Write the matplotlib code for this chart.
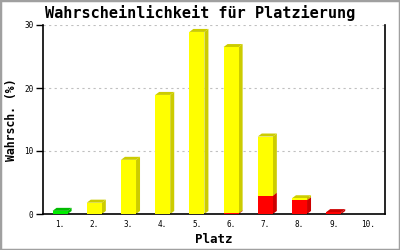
import matplotlib
matplotlib.use("Agg")
import matplotlib.pyplot as plt
from matplotlib.patches import Polygon, Rectangle
import numpy as np

categories = ["1.", "2.", "3.", "4.", "5.", "6.", "7.", "8.", "9.", "10."]
red_vals = [0, 0, 0, 0, 0, 0.1, 2.9, 2.2, 0.3, 0]
yellow_vals = [0, 1.8, 8.6, 18.9, 28.9, 26.4, 9.4, 0.3, 0, 0]
green_vals = [0.5, 0, 0, 0, 0, 0, 0, 0, 0, 0]
y_ticks = [0, 10, 20, 30]

series = [
    (red_vals, "#ff0000", "#cc0000"),
    (yellow_vals, "#ffff00", "#cccc00"),
    (green_vals, "#00ee00", "#00bb00"),
]

fig = plt.figure(figsize=(4, 2.5), dpi=100)
ax = fig.add_axes([0.1075, 0.144, 0.855, 0.756])
x = np.arange(len(categories))
w = 0.44
ax.set_xlim(-0.5, len(categories) - 0.5)
ax.set_ylim(0, 30)

# 3D offsets in data units (4 px right, 3 px up)
fig.canvas.draw()
p0 = ax.transData.inverted().transform((0, 0))
p1 = ax.transData.inverted().transform((4, 3))
dx = p1[0] - p0[0]
dy = p1[1] - p0[1]

bottom = np.zeros(len(categories))
for vals, fc, dc in series:
    vals = np.array(vals, dtype=float)
    for i in range(len(categories)):
        if vals[i] <= 0:
            continue
        b = bottom[i]
        t = b + vals[i]
        xl = x[i] - w / 2
        xr = x[i] + w / 2
        side = Polygon([(xr, b), (xr + dx, b + dy), (xr + dx, t + dy), (xr, t)],
                       closed=True, facecolor=dc, edgecolor="none", zorder=2)
        ax.add_patch(side)
        top = Polygon([(xl, t), (xl + dx, t + dy), (xr + dx, t + dy), (xr, t)],
                      closed=True, facecolor=dc, edgecolor="none", zorder=2)
        ax.add_patch(top)
    ax.bar(x, vals, width=w, bottom=bottom, color=fc, edgecolor="none", zorder=3)
    bottom = bottom + vals

mono = "DejaVu Sans Mono"
ax.set_xticks(x)
ax.set_xticklabels(categories, fontsize=5.5, family=mono)
ax.set_yticks(y_ticks)
ax.set_yticklabels([str(v) for v in y_ticks], fontsize=5.5, family=mono)
ax.tick_params(axis="x", length=0, pad=4)
ax.tick_params(axis="y", length=5, width=1, direction="out", pad=2)
ax.grid(axis="y", color="#c0c0c0", linestyle=(0, (2, 3)), linewidth=0.8, zorder=0)
ax.set_axisbelow(True)
for s in ["left", "bottom", "right"]:
    ax.spines[s].set_linewidth(1.2)
    ax.spines[s].set_color("black")
ax.spines["top"].set_visible(False)

ax.set_xlabel("Platz", fontsize=9, family=mono, fontweight="bold", labelpad=3)
ax.set_ylabel("Wahrsch. (%)", fontsize=8.3, family=mono, fontweight="bold", labelpad=4)
fig.text(0.5, 0.948, "Wahrscheinlichkeit für Platzierung", ha="center", va="center",
         fontsize=11, family=mono, fontweight="bold")

fig.add_artist(Rectangle((0, 0), 1, 1, transform=fig.transFigure, fill=False,
                         edgecolor="#a0a0a0", linewidth=2.5))

fig.savefig("out.png", dpi=100)
